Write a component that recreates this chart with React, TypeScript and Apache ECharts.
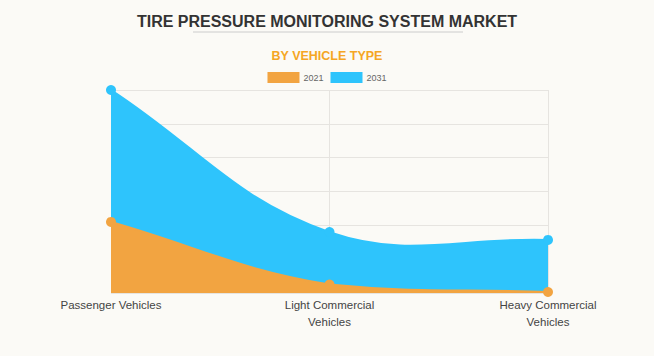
import React, { useEffect, useRef } from "react";
import * as echarts from "echarts";

const categories = ["Passenger Vehicles", "Light Commercial\nVehicles", "Heavy Commercial\nVehicles"];
const values2021 = [2.1, 0.25, 0.03];
const values2031 = [6.0, 1.8, 1.57];
const seriesNames = ["2021", "2031"];
const colors = { "2021": "#F2A441", "2031": "#2EC4FC" };

function areaRenderer(values: number[], color: string, tension = 0.4) {
  return (params: any, api: any) => {
    const pts = values.map((v, i) => api.coord([i, v]));
    const bottom = api.coord([0, 0])[1];
    const top = params.coordSys.y;
    const cps = pts.map((cur, i) => {
      const prev = pts[i - 1] || cur;
      const next = pts[i + 1] || cur;
      const d01 = Math.hypot(cur[0] - prev[0], cur[1] - prev[1]);
      const d12 = Math.hypot(next[0] - cur[0], next[1] - cur[1]);
      let s01 = d01 / (d01 + d12);
      let s12 = d12 / (d01 + d12);
      if (!isFinite(s01)) s01 = 0;
      if (!isFinite(s12)) s12 = 0;
      const fa = tension * s01;
      const fb = tension * s12;
      const clampY = (y: number) => Math.max(top, Math.min(bottom, y));
      return {
        prev: [cur[0] - fa * (next[0] - prev[0]), clampY(cur[1] - fa * (next[1] - prev[1]))],
        next: [cur[0] + fb * (next[0] - prev[0]), clampY(cur[1] + fb * (next[1] - prev[1]))],
      };
    });
    let curve = `M${pts[0][0]},${pts[0][1]}`;
    for (let i = 1; i < pts.length; i++) {
      const a = cps[i - 1].next;
      const b = cps[i].prev;
      curve += ` C${a[0]},${a[1]} ${b[0]},${b[1]} ${pts[i][0]},${pts[i][1]}`;
    }
    const last = pts[pts.length - 1];
    const area = curve + ` L${last[0]},${bottom} L${pts[0][0]},${bottom} Z`;
    return {
      type: "group",
      children: [
        { type: "path", shape: { pathData: area }, style: { fill: color } },
        { type: "path", shape: { pathData: curve }, style: { fill: "none", stroke: color, lineWidth: 2 } },
      ],
    };
  };
}

export default function App() {
  const ref = useRef<HTMLDivElement>(null);
  useEffect(() => {
    document.body.style.margin = "0";
    document.body.style.background = "#FBFAF6";
    if (!ref.current) return;
    const chart = echarts.init(ref.current, null, { renderer: "svg" });
    chart.setOption({
      animation: false,
      backgroundColor: "#FBFAF6",
      title: [
        {
          text: "TIRE PRESSURE MONITORING SYSTEM MARKET",
          left: "center",
          top: 8,
          textStyle: { fontFamily: "Liberation Sans, Arial", fontSize: 16, fontWeight: "bold", color: "#333333" },
        },
        {
          text: "BY VEHICLE TYPE",
          left: "center",
          top: 44,
          textStyle: { fontFamily: "Liberation Sans, Arial", fontSize: 12.5, fontWeight: "bold", color: "#F5A623" },
        },
      ],
      graphic: [
        { type: "line", shape: { x1: 193, y1: 32, x2: 463, y2: 32 }, style: { stroke: "#cccccc", lineWidth: 1 } },
      ],
      legend: {
        data: seriesNames,
        top: 72,
        left: "center",
        padding: 0,
        itemWidth: 32,
        itemHeight: 11,
        itemGap: 7,
        icon: "rect",
        textStyle: { fontFamily: "Liberation Sans, Arial", fontSize: 9, color: "#666666", padding: [0, 0, 0, -1] },
      },
      grid: { left: 111, right: 106, top: 90, bottom: 63 },
      xAxis: {
        type: "category",
        data: categories,
        boundaryGap: false,
        axisLine: { show: false },
        axisTick: { show: false },
        splitLine: { show: true, lineStyle: { color: "#e6e4e0" } },
        axisLabel: { fontFamily: "Liberation Sans, Arial", fontSize: 11.5, color: "#444444", lineHeight: 17, margin: 3, interval: 0 },
      },
      yAxis: {
        type: "value",
        min: 0,
        max: 6,
        interval: 1,
        axisLabel: { show: false },
        axisLine: { show: false },
        axisTick: { show: false },
        splitLine: { show: true, lineStyle: { color: "#e6e4e0" } },
      },
      series: [
        {
          name: "2031",
          type: "custom",
          data: [[0, 0]],
          renderItem: areaRenderer(values2031, colors["2031"]),
          itemStyle: { color: colors["2031"] },
          z: 2,
          silent: true,
        },
        {
          name: "2021",
          type: "custom",
          data: [[0, 0]],
          renderItem: areaRenderer(values2021, colors["2021"]),
          itemStyle: { color: colors["2021"] },
          z: 4,
          silent: true,
        },
        {
          name: "2031",
          type: "line",
          data: values2031,
          symbol: "circle",
          symbolSize: 10,
          itemStyle: { color: colors["2031"] },
          lineStyle: { opacity: 0 },
          z: 3,
        },
        {
          name: "2021",
          type: "line",
          data: values2021,
          symbol: "circle",
          symbolSize: 10,
          itemStyle: { color: colors["2021"] },
          lineStyle: { opacity: 0 },
          z: 5,
        },
      ],
    });
    return () => chart.dispose();
  }, []);
  return <div ref={ref} style={{ width: 654, height: 356 }} />;
}
